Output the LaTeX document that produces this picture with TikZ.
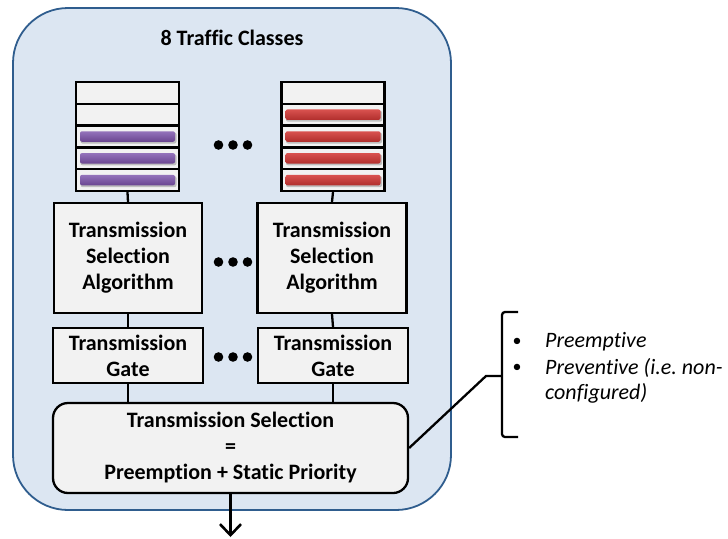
\documentclass[tikz,border=0pt]{standalone}
\usepackage{fontspec}
\setmainfont{Carlito}[Ligatures=NoCommon]
\frenchspacing
\usetikzlibrary{arrows.meta}
\definecolor{outerfill}{HTML}{DCE6F2}
\definecolor{outerline}{HTML}{2F5D8E}
\definecolor{boxfill}{HTML}{F2F2F2}
\definecolor{purpleA}{HTML}{9473BB}
\definecolor{purpleB}{HTML}{6A4590}
\definecolor{redA}{HTML}{D9524F}
\definecolor{redB}{HTML}{B02E2C}
\begin{document}
\begin{tikzpicture}[x=1pt,y=-1pt,
  blk/.style={draw=black, fill=boxfill, line width=2.3pt, inner sep=0pt, align=center, font=\fontsize{22}{26}\selectfont\bfseries},
  row/.style={draw=black, fill=boxfill, line width=2.3pt, inner sep=0pt, minimum width=103pt, minimum height=21.8pt},
  pbar/.style={rounded corners=2pt, top color=purpleA, bottom color=purpleB, draw=none, inner sep=0pt, minimum width=95pt, minimum height=10.5pt},
  rbar/.style={rounded corners=2pt, top color=redA, bottom color=redB, draw=none, inner sep=0pt, minimum width=95pt, minimum height=10.5pt},
  shadowbar/.style={fill=black!25, draw=none, inner sep=0pt, rounded corners=2pt, minimum width=96pt, minimum height=11pt},
  conn/.style={line width=2.3pt},
  itx/.style={font=\fontsize{22}{25}\selectfont\itshape, inner sep=0pt, anchor=west},
  bul/.style={font=\fontsize{18}{25}\selectfont, inner sep=0pt},
]
\useasboundingbox (0,0) rectangle (728,538);
\node[draw=outerline, fill=outerfill, line width=1.8pt, rounded corners=55pt, minimum width=438pt, minimum height=502pt, inner sep=0pt] (outer) at (232,259) {};
\node[font=\fontsize{22}{26}\selectfont\bfseries] (title) at (232,38) {8 Traffic Classes};

% queues
\foreach \i in {0,...,4} {
  \node[row] (la\i) at (127.5, {82+21.8*(\i+0.5)}) {};
  \node[row] (ra\i) at (333, {82+21.8*(\i+0.5)}) {};
}
\foreach \i in {2,3,4} {
  \node[shadowbar] at (128.5, {82+21.8*(\i+0.5)+1.5}) {};
  \node[pbar] (lb\i) at (127.5, {82+21.8*(\i+0.5)}) {};
}
\foreach \i in {1,2,3,4} {
  \node[shadowbar] at (334, {82+21.8*(\i+0.5)+1.5}) {};
  \node[rbar] (rb\i) at (333, {82+21.8*(\i+0.5)}) {};
}

\node[blk, minimum width=148pt, minimum height=110pt] (tsa1) at (128,258) {Transmission\\Selection\\Algorithm};
\node[blk, minimum width=149pt, minimum height=110pt] (tsa2) at (332,258) {Transmission\\Selection\\Algorithm};
\node[blk, minimum width=150pt, minimum height=55pt] (g1) at (128,355.5) {Transmission\\Gate};
\node[blk, minimum width=150pt, minimum height=55pt] (g2) at (333,355.5) {Transmission\\Gate};
\node[blk, rounded corners=15pt, minimum width=355pt, minimum height=90pt] (ts) at (230.5,448) {Transmission Selection\\=\\Preemption + Static Priority};

\draw[conn] (la4.south) -- (tsa1.north);
\draw[conn] (ra4.south) -- (tsa2.north);
\draw[conn] (tsa1.south) -- (g1.north);
\draw[conn] (tsa2.south) -- (g2.north);
\draw[conn] (g1.south) -- (ts.north -| g1.south);
\draw[conn] (g2.south) -- (ts.north -| g2.south);

\coordinate (out) at (230.5,537);
\draw[line width=2.6pt, -{Straight Barb[length=11pt,width=21pt,line width=2.6pt]}] (ts.south) -- (out);

% dots
\foreach \y in {145,262,357} {
  \foreach \dx in {-14.5,0,14.5} \fill (233+\dx,\y) circle (4.8pt);
}

% bracket
\coordinate (notch) at (486,376);
\draw[conn, rounded corners=3pt] (518,312) -- (502,312) -- (502,437) -- (518,437);
\draw[conn] (ts.east) -- (notch) -- (502,376);

\node[bul] (bu1) at (517,342) {•};
\node[bul] (bu2) at (517,368) {•};
\node[itx] (t1) at (545,342) {Preemptive};
\node[itx] (t2) at (545,368) {Preventive (i.e. non-};
\node[itx] (t3) at (545,393) {configured)};
\end{tikzpicture}
\end{document}
